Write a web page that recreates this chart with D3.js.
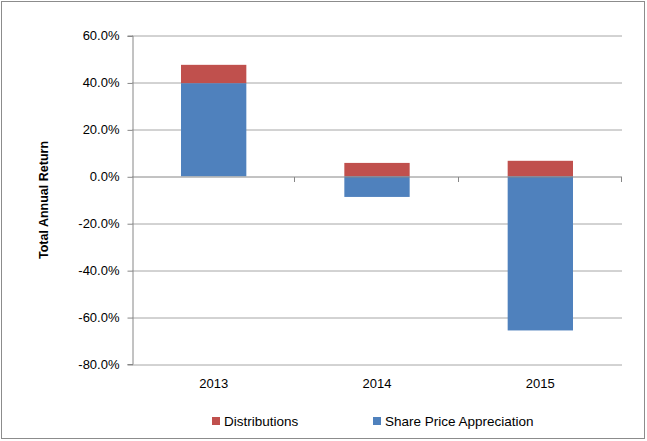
<!DOCTYPE html>
<html>
<head>
<meta charset="utf-8">
<script src="https://cdn.jsdelivr.net/npm/d3@7"></script>
<style>
  body { margin: 0; background: #fff; }
  text { font-family: "Liberation Sans", Arial, sans-serif; }
</style>
</head>
<body>
<div id="chart"></div>
<script>
// values (percent)
var years = ["2013", "2014", "2015"];
var distributions = [7.8, 5.7, 6.6];
var sharePrice = [39.7, -8.8, -65.7];
var yTicks = [60, 40, 20, 0, -20, -40, -60, -80];
var seriesNames = ["Distributions", "Share Price Appreciation"];
var seriesColors = ["#C0504D", "#4F81BD"];

function main() {
    var W = 647, H = 441;
    var margin = { top: 35.5, right: 25, bottom: 77, left: 132 };
    var width = 622 - margin.left;
    var height = 364 - margin.top;

    var svg = d3.select("#chart").append("svg")
        .attr("width", W)
        .attr("height", H);

    // outer chart border
    svg.append("rect")
        .attr("x", 1.5).attr("y", 1.5)
        .attr("width", W - 4).attr("height", H - 4)
        .attr("fill", "#fff")
        .attr("stroke", "#8c8c8c")
        .attr("stroke-width", 1);

    var g = svg.append("g")
        .attr("transform", "translate(" + margin.left + "," + margin.top + ")");

    var x = d3.scaleBand()
        .domain(years)
        .range([0, width])
        .paddingInner(0.6)
        .paddingOuter(0.3);
    var xStep = d3.scaleBand().domain(years).range([0, width]);

    var y = d3.scaleLinear()
        .domain([-80, 60])
        .range([height, 0]);

    // gridlines
    g.append("g").selectAll("line")
        .data(yTicks.filter(function (d) { return d !== 0; }))
        .enter().append("line")
        .attr("x1", 0).attr("x2", width)
        .attr("y1", function (d) { return Math.round(y(d)) + 0.5; })
        .attr("y2", function (d) { return Math.round(y(d)) + 0.5; })
        .attr("stroke", "#a6a6a6")
        .attr("stroke-width", 1);

    // y axis
    var yAxis = g.append("g")
        .attr("transform", "translate(0.5,0)")
        .call(d3.axisLeft(y)
            .tickValues(yTicks)
            .tickSize(5)
            .tickPadding(8)
            .tickFormat(function (d) { return d.toFixed(1) + "%"; }));
    yAxis.selectAll("path, line").attr("stroke", "#868686");
    yAxis.selectAll("line").attr("transform", "translate(0,0.5)");
    yAxis.selectAll("text")
        .attr("font-size", "13px")
        .attr("fill", "#000")
        .style("font-family", "Liberation Sans, Arial, sans-serif");

    // stacked bars: distributions on top of positive base (0 or share price when positive)
    var barData = years.map(function (yr, i) {
        var sp = sharePrice[i];
        var base = sp > 0 ? sp : 0;
        return { year: yr, sp: sp, dist: distributions[i], base: base };
    });

    g.selectAll("rect.sp")
        .data(barData)
        .enter().append("rect")
        .attr("class", "sp")
        .attr("x", function (d) { return x(d.year); })
        .attr("width", x.bandwidth())
        .attr("y", function (d) { return y(Math.max(0, d.sp)); })
        .attr("height", function (d) { return Math.abs(y(d.sp) - y(0)); })
        .attr("fill", seriesColors[1]);

    g.selectAll("rect.dist")
        .data(barData)
        .enter().append("rect")
        .attr("class", "dist")
        .attr("x", function (d) { return x(d.year); })
        .attr("width", x.bandwidth())
        .attr("y", function (d) { return y(d.base + d.dist); })
        .attr("height", function (d) { return y(d.base) - y(d.base + d.dist); })
        .attr("fill", seriesColors[0]);

    // zero line with category boundary ticks
    var y0 = Math.round(y(0)) + 0.5;
    g.append("line")
        .attr("x1", 0).attr("x2", width)
        .attr("y1", y0).attr("y2", y0)
        .attr("stroke", "#868686");
    g.append("g").selectAll("line")
        .data(years)
        .enter().append("line")
        .attr("x1", function (d) { return Math.round(xStep(d) + xStep.step()) - 0.5; })
        .attr("x2", function (d) { return Math.round(xStep(d) + xStep.step()) - 0.5; })
        .attr("y1", y0).attr("y2", y0 + 5)
        .attr("stroke", "#868686");

    // category labels (low position)
    g.append("g").selectAll("text")
        .data(years)
        .enter().append("text")
        .attr("x", function (d) { return x(d) + x.bandwidth() / 2; })
        .attr("y", height + 24)
        .attr("text-anchor", "middle")
        .attr("font-size", "13px")
        .text(function (d) { return d; });

    // y axis title
    svg.append("text")
        .attr("transform", "translate(48,200) rotate(-90)")
        .attr("text-anchor", "middle")
        .attr("font-size", "12.5px")
        .attr("font-weight", "bold")
        .text("Total Annual Return");

    // legend
    var legendX = [212, 373];
    var legend = svg.append("g").selectAll("g")
        .data(seriesNames)
        .enter().append("g")
        .attr("transform", function (d, i) { return "translate(" + legendX[i] + ",417)"; });
    legend.append("rect")
        .attr("width", 8).attr("height", 8)
        .attr("fill", function (d, i) { return seriesColors[i]; });
    legend.append("text")
        .attr("x", 12)
        .attr("y", 9)
        .attr("font-size", "13.5px")
        .text(function (d) { return d; });
}
window.addEventListener('load', main);
</script>
</body>
</html>
